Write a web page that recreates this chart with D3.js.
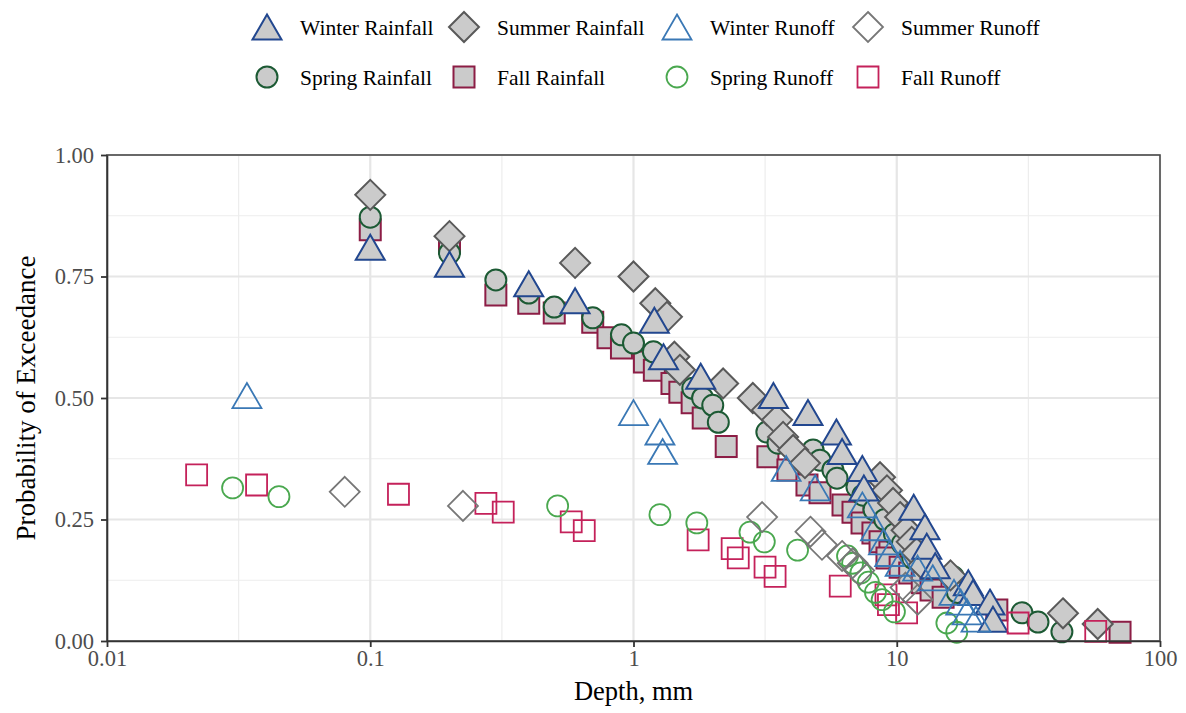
<!DOCTYPE html>
<html>
<head>
<meta charset="utf-8">
<script src="https://cdn.jsdelivr.net/npm/d3@7"></script>
<style>
  html, body { margin: 0; padding: 0; background: #ffffff; }
  svg { display: block; }
  text { font-family: "Liberation Serif", "Times New Roman", serif; }
</style>
</head>
<body>
<svg id="chart" width="1186" height="713"></svg>
<script>
// Axis ticks and labels
const depthTicks = [0.01, 0.1, 1, 10, 100];
const depthTickLabels = ["0.01", "0.1", "1", "10", "100"];
const probTicks = [0, 0.25, 0.5, 0.75, 1];
const probTickLabels = ["0.00", "0.25", "0.50", "0.75", "1.00"];

// Series: [depth (mm), probability of exceedance]
const winterRainfall = [[0.1,0.81],[0.2,0.775],[0.4,0.735],[0.6,0.70],[1.2,0.66],[1.3,0.585],[1.8,0.545],
  [3.4,0.505],[4.6,0.47],[5.9,0.43],[6.2,0.39],[7.4,0.355],[7.5,0.315],[11.6,0.275],[12.8,0.235],
  [13.0,0.195],[14.0,0.155],[18.7,0.12],[19.5,0.10],[22.6,0.08],[23.2,0.045]];
const summerRainfall = [[0.1,0.918],[0.2,0.833],[0.6,0.778],[1.0,0.75],[1.21,0.695],[1.34,0.667],[1.43,0.585],
  [1.5,0.558],[2.19,0.53],[2.84,0.50],[3.21,0.475],[3.51,0.455],[3.7,0.42],[4.04,0.393],[4.48,0.366],
  [8.64,0.337],[9.18,0.31],[9.68,0.284],[10.3,0.255],[10.9,0.228],[11.4,0.204],[11.9,0.181],[12.6,0.156],
  [16.0,0.135],[42.8,0.057],[58.0,0.035]];
const springRainfall = [[0.1,0.872],[0.2,0.798],[0.3,0.743],[0.4,0.716],[0.5,0.687],[0.7,0.665],[0.9,0.63],
  [1.0,0.613],[1.19,0.595],[1.68,0.52],[1.83,0.50],[2.0,0.485],[2.1,0.45],[3.21,0.43],[3.54,0.407],
  [4.81,0.393],[5.11,0.372],[5.72,0.352],[5.93,0.335],[7.06,0.317],[7.44,0.30],[8.2,0.27],[9.0,0.25],
  [9.8,0.22],[10.5,0.20],[11.5,0.17],[13.5,0.15],[16.4,0.132],[17.0,0.10],[29.9,0.058],[34.4,0.039],[42.4,0.019]];
const fallRainfall = [[0.1,0.846],[0.2,0.82],[0.3,0.712],[0.4,0.695],[0.5,0.675],[0.7,0.656],[0.8,0.624],
  [0.9,0.603],[1.1,0.574],[1.2,0.557],[1.4,0.53],[1.5,0.512],[1.67,0.49],[1.84,0.459],[2.25,0.40],
  [3.24,0.379],[3.86,0.352],[4.56,0.321],[5.11,0.305],[6.25,0.28],[6.82,0.265],[7.38,0.243],[8.12,0.222],
  [8.64,0.204],[9.42,0.183],[9.18,0.171],[10.3,0.152],[11.2,0.14],[12.5,0.12],[13.5,0.105],[15.0,0.09],
  [24.0,0.064],[70.5,0.018]];
const winterRunoff = [[0.034,0.505],[1.0,0.47],[1.26,0.43],[1.29,0.39],[3.8,0.355],[4.9,0.315],[7.4,0.28],
  [8.3,0.233],[8.9,0.204],[9.4,0.18],[10.3,0.16],[12.0,0.15],[13.7,0.13],[16.5,0.10],[17.5,0.08],
  [18.5,0.06],[20.0,0.045]];
const summerRunoff = [[0.08,0.307],[0.225,0.278],[3.08,0.255],[4.7,0.225],[5.2,0.198],[6.2,0.175],
  [6.8,0.16],[7.2,0.145],[10.8,0.11],[12.0,0.085]];
const springRunoff = [[0.030,0.315],[0.045,0.297],[0.515,0.278],[1.26,0.26],[1.74,0.243],[2.77,0.224],
  [3.14,0.204],[4.2,0.187],[6.5,0.175],[6.8,0.16],[7.3,0.14],[7.8,0.121],[8.3,0.10],[8.8,0.085],
  [9.8,0.06],[15.5,0.037],[16.9,0.018]];
const fallRunoff = [[0.0219,0.342],[0.037,0.321],[0.128,0.302],[0.275,0.283],[0.32,0.265],[0.58,0.245],
  [0.65,0.227],[1.76,0.208],[2.37,0.19],[2.5,0.171],[3.16,0.152],[3.45,0.133],[6.1,0.113],[9.1,0.095],
  [9.3,0.075],[10.9,0.058],[28.9,0.037],[57.0,0.02]];

// Marker outlines, centred on their bounding box
const shapes = {
  triangle: "M0,-12.5L14.5,12.5L-14.5,12.5Z",
  diamond: "M0,-15L15,0L0,15L-15,0Z",
  circle: d3.symbol(d3.symbolCircle, Math.PI * 10.5 * 10.5)(),
  square: "M-10.5,-10.5H10.5V10.5H-10.5Z"
};

const FILL = "#cbcbcb";
const series = [
  { name: "Fall Rainfall", data: fallRainfall, shape: "square", stroke: "#8c1d45", fill: FILL },
  { name: "Spring Rainfall", data: springRainfall, shape: "circle", stroke: "#1c5a34", fill: FILL },
  { name: "Summer Rainfall", data: summerRainfall, shape: "diamond", stroke: "#595959", fill: FILL },
  { name: "Winter Rainfall", data: winterRainfall, shape: "triangle", stroke: "#22478f", fill: FILL },
  { name: "Fall Runoff", data: fallRunoff, shape: "square", stroke: "#c4215a", fill: "none" },
  { name: "Spring Runoff", data: springRunoff, shape: "circle", stroke: "#4aa84f", fill: "none" },
  { name: "Summer Runoff", data: summerRunoff, shape: "diamond", stroke: "#777777", fill: "none" },
  { name: "Winter Runoff", data: winterRunoff, shape: "triangle", stroke: "#3a78b5", fill: "none" }
];
const byName = Object.fromEntries(series.map(s => [s.name, s]));

const legendRows = [
  ["Winter Rainfall", "Summer Rainfall", "Winter Runoff", "Summer Runoff"],
  ["Spring Rainfall", "Fall Rainfall", "Spring Runoff", "Fall Runoff"]
];

const svg = d3.select("#chart");
const panel = { left: 107, right: 1160, top: 155, bottom: 641 };

const x = d3.scaleLog().domain([0.01, 100]).range([panel.left, panel.right]);
const y = d3.scaleLinear().domain([0, 1]).range([panel.bottom, panel.top]);

svg.append("rect").attr("width", 1186).attr("height", 713).attr("fill", "#ffffff");

// Grid lines
const grid = svg.append("g");
const minorX = depthTicks.slice(0, -1).map(d => d * Math.sqrt(10));
const minorY = probTicks.slice(0, -1).map(d => d + 0.125);
grid.selectAll(".vminor").data(minorX).join("line")
  .attr("x1", d => x(d)).attr("x2", d => x(d)).attr("y1", panel.top).attr("y2", panel.bottom)
  .attr("stroke", "#ededed").attr("stroke-width", 1.2);
grid.selectAll(".hminor").data(minorY).join("line")
  .attr("y1", d => y(d)).attr("y2", d => y(d)).attr("x1", panel.left).attr("x2", panel.right)
  .attr("stroke", "#ededed").attr("stroke-width", 1.2);
grid.selectAll(".vmajor").data(depthTicks).join("line")
  .attr("x1", d => x(d)).attr("x2", d => x(d)).attr("y1", panel.top).attr("y2", panel.bottom)
  .attr("stroke", "#e6e6e6").attr("stroke-width", 2.2);
grid.selectAll(".hmajor").data(probTicks).join("line")
  .attr("y1", d => y(d)).attr("y2", d => y(d)).attr("x1", panel.left).attr("x2", panel.right)
  .attr("stroke", "#e6e6e6").attr("stroke-width", 2.2);

// Points
const marks = svg.append("g");
series.forEach(s => {
  marks.append("g").selectAll("path").data(s.data).join("path")
    .attr("d", shapes[s.shape])
    .attr("transform", d => `translate(${x(d[0])},${y(d[1])})`)
    .attr("fill", s.fill)
    .attr("stroke", s.stroke)
    .attr("stroke-width", s.fill === "none" ? 1.8 : 2);
});

// Panel border
svg.append("rect")
  .attr("x", panel.left).attr("y", panel.top)
  .attr("width", panel.right - panel.left).attr("height", panel.bottom - panel.top)
  .attr("fill", "none").attr("stroke", "#4a4a4a").attr("stroke-width", 1.6);

// Axes
const xAxis = d3.axisBottom(x).tickValues(depthTicks)
  .tickFormat((d, i) => depthTickLabels[i]).tickSize(6).tickSizeOuter(0);
const yAxis = d3.axisLeft(y).tickValues(probTicks)
  .tickFormat((d, i) => probTickLabels[i]).tickSize(6).tickSizeOuter(0);

const gx = svg.append("g").attr("transform", `translate(0,${panel.bottom})`).call(xAxis);
const gy = svg.append("g").attr("transform", `translate(${panel.left},0)`).call(yAxis);
[gx, gy].forEach(g => {
  g.select(".domain").attr("stroke", "#333333").attr("stroke-width", 1.6);
  g.selectAll(".tick line").attr("stroke", "#333333").attr("stroke-width", 1.8);
  g.selectAll(".tick text").attr("fill", "#4d4d4d").attr("font-size", 22.5)
    .attr("font-family", "Liberation Serif, serif");
});
gx.selectAll(".tick text").attr("dy", "0.9em").attr("y", 5);
gy.selectAll(".tick text").attr("x", -13);

// Axis titles
svg.append("text").attr("x", (panel.left + panel.right) / 2).attr("y", 700)
  .attr("text-anchor", "middle").attr("font-size", 26.5).attr("fill", "#000")
  .text("Depth, mm");
svg.append("text")
  .attr("transform", `translate(35,${(panel.top + panel.bottom) / 2}) rotate(-90)`)
  .attr("text-anchor", "middle").attr("font-size", 27).attr("fill", "#000")
  .text("Probability of Exceedance");

// Legend
const colSymbolX = [267, 464, 677, 868];
const rowY = [27, 77];
const legend = svg.append("g");
legendRows.forEach((row, r) => {
  row.forEach((name, c) => {
    const s = byName[name];
    const g = legend.append("g").attr("transform", `translate(${colSymbolX[c]},${rowY[r]})`);
    g.append("path").attr("d", shapes[s.shape])
      .attr("fill", s.fill).attr("stroke", s.stroke)
      .attr("stroke-width", s.fill === "none" ? 1.8 : 2);
    g.append("text").attr("x", 33).attr("dy", "0.35em")
      .attr("font-size", 21.5).attr("fill", "#000").text(name);
  });
});
</script>
</body>
</html>
